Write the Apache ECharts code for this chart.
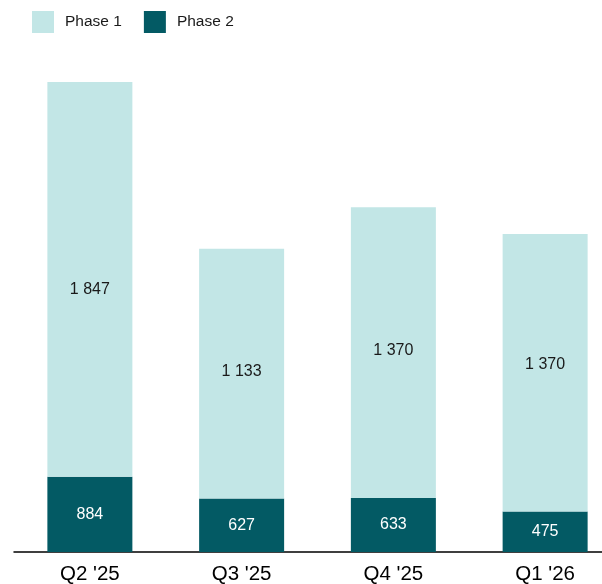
<!DOCTYPE html>
<html>
<head>
<meta charset="utf-8">
<script src="https://cdn.jsdelivr.net/npm/echarts@6/dist/echarts.min.js"></script>
<style>
  html, body { margin: 0; padding: 0; background: #fff; }
  #chart { width: 602px; height: 584px; }
</style>
</head>
<body>
<div id="chart"></div>
<script>
// quarters on the x axis
const quarters = ["Q2 '25", "Q3 '25", "Q4 '25", "Q1 '26"];

// printed labels
const phase1Labels = ['1 847', '1 133', '1 370', '1 370'];
const phase2Labels = ['884', '627', '633', '475'];

// bar heights as drawn in the picture (same unit as Phase 2)
const phase1Heights = [4634, 2935, 3416, 3260];
const phase2Heights = [884, 627, 633, 475];

const chart = echarts.init(document.getElementById('chart'));

// small vertical nudges of the Phase 1 labels, as placed in the original
const phase1LabelShift = [10, -2, -2, -8];

const option = {
  animation: false,
  textStyle: { fontFamily: 'Liberation Sans, Arial, sans-serif' },
  legend: {
    data: ['Phase 1', 'Phase 2'],
    left: 32,
    top: 11,
    padding: 0,
    icon: 'rect',
    itemWidth: 22,
    itemHeight: 22,
    itemGap: 22,
    textStyle: { fontSize: 15.5, color: '#1a1a1a', padding: [0, 0, 0, 6] }
  },
  grid: { left: 14, width: 607, top: 41, bottom: 32, outerBoundsMode: 'none', containLabel: false },
  xAxis: {
    type: 'category',
    data: quarters,
    axisLine: { lineStyle: { color: '#000', width: 1.5 } },
    axisTick: { show: false },
    axisLabel: { fontSize: 20.5, color: '#000', margin: 12 }
  },
  yAxis: {
    type: 'value',
    min: 0,
    max: 6000,
    show: false,
    splitLine: { show: false }
  },
  series: [
    {
      name: 'Phase 2',
      type: 'bar',
      stack: 'total',
      barWidth: 85,
      data: phase2Heights,
      itemStyle: { color: '#035a64' },
      label: {
        show: true,
        position: 'inside',
        color: '#fff',
        fontSize: 16,
        formatter: (p) => phase2Labels[p.dataIndex]
      }
    },
    {
      name: 'Phase 1',
      type: 'bar',
      stack: 'total',
      barWidth: 85,
      data: phase1Heights.map((v, i) => ({
        value: v,
        label: { offset: [0, phase1LabelShift[i]] }
      })),
      itemStyle: { color: '#c2e6e6' },
      label: {
        show: true,
        position: 'inside',
        color: '#1a1a1a',
        fontSize: 16,
        formatter: (p) => phase1Labels[p.dataIndex]
      }
    }
  ]
};

chart.setOption(option);
</script>
</body>
</html>
